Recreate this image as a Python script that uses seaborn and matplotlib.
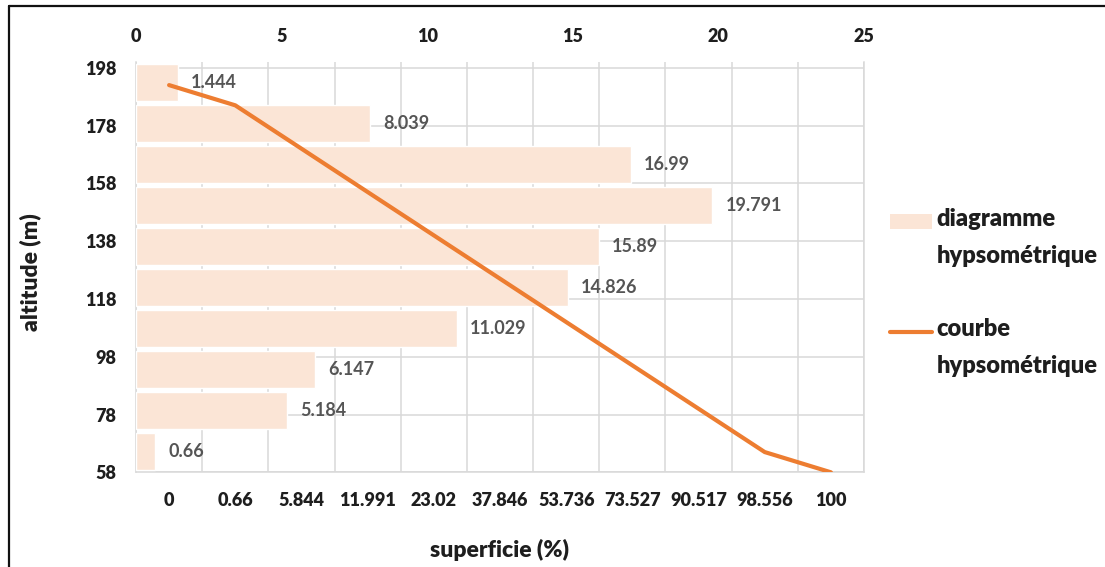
import matplotlib
matplotlib.use("Agg")
import matplotlib.pyplot as plt
import seaborn as sns
import numpy as np
from matplotlib.lines import Line2D
from matplotlib.patches import Patch, Rectangle
from matplotlib.legend_handler import HandlerPatch, HandlerLine2D

# Hypsometric distribution: share of basin area (%) per altitude class, highest class first
alt_classes = ["184-198", "170-184", "156-170", "142-156", "128-142",
               "114-128", "100-114", "86-100", "72-86", "58-72"]
class_area_pct = [1.444, 8.039, 16.99, 19.791, 15.89, 14.826, 11.029, 6.147, 5.184, 0.66]

# Hypsometric curve: cumulative area (%) against altitude (m)
cum_area_labels = ["0", "0.66", "5.844", "11.991", "23.02", "37.846",
                   "53.736", "73.527", "90.517", "98.556", "100"]
curve_altitude = [192, 185, 170, 155, 140, 125, 110, 95, 80, 65, 58]

altitude_ticks = [58, 78, 98, 118, 138, 158, 178, 198]
pct_ticks = [0, 5, 10, 15, 20, 25]

BAR_COLOR = "#FBE5D6"
LINE_COLOR = "#ED7D31"
GRID_COLOR = "#D9D9D9"
TICK_COLOR = "#1E1E1E"
LABEL_COLOR = "#555555"
HEAVY = 800

sns.set_theme(style="white")
plt.rcParams["font.family"] = ["Lato", "DejaVu Sans"]

W, H = 1105, 567
fig = plt.figure(figsize=(W / 100, H / 100), dpi=100)
rect = [136 / W, 1 - 472.3 / H, 728 / W, 410.6 / H]

n_pts = len(cum_area_labels)
x_lim = (-0.5, n_pts - 0.5)
y_lim = (58, 200.1)

# Base axes: altitude scale, cumulative-area categories and the gridlines
ax = fig.add_axes(rect, zorder=1)
ax.set_xlim(*x_lim)
ax.set_ylim(*y_lim)
ax.set_xticks(np.arange(n_pts))
ax.set_xticklabels(cum_area_labels)
ax.set_xticks(np.arange(n_pts + 1) - 0.5, minor=True)
ax.set_yticks(altitude_ticks)
ax.grid(axis="y", which="major", color=GRID_COLOR, lw=1.1)
ax.grid(axis="x", which="minor", color=GRID_COLOR, lw=1.1)
ax.grid(axis="x", which="major", visible=False)
ax.spines["top"].set_visible(False)
for side in ["left", "right", "bottom"]:
    ax.spines[side].set_color(GRID_COLOR)
    ax.spines[side].set_linewidth(1.1)
ax.tick_params(axis="both", which="both", length=0, pad=14,
               labelsize=13, labelcolor=TICK_COLOR)
for lbl in ax.get_xticklabels() + ax.get_yticklabels():
    lbl.set_fontweight(HEAVY)
ax.set_ylabel("altitude (m)", fontsize=16.5, fontweight=HEAVY, color=TICK_COLOR, va="center")
ax.yaxis.set_label_coords((30 - 136) / 728, (472.3 - 272) / 410.6)
ax.set_xlabel("superficie (%)", fontsize=16.5, fontweight=HEAVY, color=TICK_COLOR, va="center")
ax.xaxis.set_label_coords((500 - 136) / 728, (472.3 - 550) / 410.6)

# Bars: area share per altitude class, on the top percentage axis
ax_bar = fig.add_axes(rect, zorder=2)
ax_bar.patch.set_visible(False)
sns.barplot(x=class_area_pct, y=alt_classes, orient="h", color=BAR_COLOR,
            saturation=1, width=1 / 1.1, ax=ax_bar)
ax_bar.set_xlim(0, 25)
ax_bar.set_ylim(len(alt_classes) - 0.5, -0.5)
ax_bar.xaxis.tick_top()
ax_bar.set_xticks(pct_ticks)
ax_bar.set_xticklabels([str(t) for t in pct_ticks], fontweight=HEAVY)
ax_bar.set_yticks([])
ax_bar.set_xlabel("")
ax_bar.set_ylabel("")
for s in ax_bar.spines.values():
    s.set_visible(False)
ax_bar.tick_params(axis="x", length=0, pad=12, labelsize=13, labelcolor=TICK_COLOR)
ax_bar.bar_label(ax_bar.containers[0], fmt="{:g}", padding=9.4,
                 fontsize=13, color=LABEL_COLOR, fontweight="bold")

# Hypsometric curve on top of the bars
ax_line = fig.add_axes(rect, zorder=3)
ax_line.patch.set_visible(False)
sns.lineplot(x=np.arange(n_pts), y=curve_altitude, sort=False, color=LINE_COLOR,
             lw=3, ax=ax_line, solid_capstyle="round", solid_joinstyle="round")
ax_line.set_xlim(*x_lim)
ax_line.set_ylim(*y_lim)
ax_line.axis("off")

# Legend keys sit level with the first line of their two-line label
KEY_SHIFT = 12.2  # points


def raised_patch(legend, orig_handle, xdescent, ydescent, width, height, fontsize):
    return Rectangle((-xdescent, -ydescent + KEY_SHIFT), width, height)


class RaisedLine(HandlerLine2D):
    def create_artists(self, legend, orig_handle, xdescent, ydescent,
                       width, height, fontsize, trans):
        artists = super().create_artists(legend, orig_handle, xdescent, ydescent,
                                         width, height, fontsize, trans)
        for a in artists:
            a.set_ydata(np.asarray(a.get_ydata()) + KEY_SHIFT)
        return artists


bar_key = Patch(facecolor=BAR_COLOR, edgecolor="none")
line_key = Line2D([], [], color=LINE_COLOR, lw=3)
leg = fig.legend([bar_key, line_key], ["diagramme\nhypsométrique", "courbe\nhypsométrique"],
                 loc="upper left", bbox_to_anchor=(890 / W, 1 - 208 / H), frameon=False,
                 prop={"family": ["Lato", "DejaVu Sans"], "weight": HEAVY, "size": 17},
                 handlelength=1.78, handleheight=0.63, handletextpad=0.2,
                 labelspacing=2.15, borderaxespad=0, borderpad=0,
                 handler_map={Patch: HandlerPatch(patch_func=raised_patch),
                              Line2D: RaisedLine()})
for t in leg.get_texts():
    t.set_color(TICK_COLOR)
    t.set_linespacing(1.85)

# Outer frame (left and top edges)
fig.add_artist(Line2D([8.5 / W, 8.5 / W], [0, 1 - 6 / H], transform=fig.transFigure,
                      color="#111111", lw=1.6))
fig.add_artist(Line2D([8.5 / W, 1], [1 - 6 / H, 1 - 6 / H], transform=fig.transFigure,
                      color="#111111", lw=1.6))

fig.savefig("out.png", dpi=100)
